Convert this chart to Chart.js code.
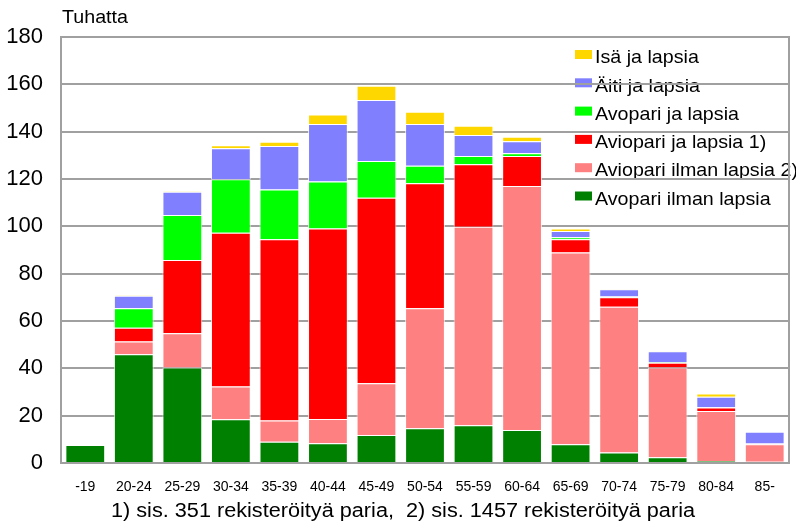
<!DOCTYPE html>
<html>
<head>
<meta charset="utf-8">
<script src="https://cdn.jsdelivr.net/npm/chart.js@4.4.1/dist/chart.umd.min.js"></script>
<style>
	html, body { margin: 0; padding: 0; background: #fff; }
	#chart { display: block; }
</style>
</head>
<body>
<canvas id="chart" width="796" height="522"></canvas>
<script>
	'use strict';

	var categories = ['-19', '20-24', '25-29', '30-34', '35-39', '40-44', '45-49', '50-54', '55-59', '60-64', '65-69', '70-74', '75-79', '80-84', '85-'];

	// stacked bottom to top, values in thousands
	var avopariIlmanLapsia = [7.6, 46, 40.3, 18.5, 9, 8.3, 11.8, 14.7, 16, 13.9, 7.9, 4.4, 2.4, 0.8, 0.5];
	var aviopariIlmanLapsia = [0, 5.3, 14.5, 13.8, 9, 10.3, 21.9, 50.7, 83.8, 103.1, 81, 61.6, 38, 21.2, 7.4];
	var aviopariJaLapsia = [0, 5.9, 31, 65, 76.5, 80.5, 78.4, 52.8, 26.4, 12.7, 5.6, 4, 2, 1.4, 0.2];
	var avopariJaLapsia = [0, 8.2, 19, 22.6, 21.1, 19.8, 15.5, 7.4, 3.5, 1.2, 0.9, 0.3, 0.2, 0.2, 0.1];
	var aitiJaLapsia = [0, 5.3, 9.8, 13.1, 18.3, 24.3, 25.8, 17.6, 8.9, 5, 2.6, 3.1, 4.6, 4.4, 5];
	var isaJaLapsia = [0, 0.2, 0.2, 1.3, 1.8, 4.1, 6, 5.2, 3.9, 1.9, 1.1, 0.2, 0.2, 1.4, 0.1];

	var yTicks = [0, 20, 40, 60, 80, 100, 120, 140, 160, 180];

	var fontFamily = '"Liberation Sans", Arial, sans-serif';

	var series = [
		{label: 'Avopari ilman lapsia', data: avopariIlmanLapsia, color: '#008000'},
		{label: 'Aviopari ilman lapsia 2)', data: aviopariIlmanLapsia, color: '#ff8080'},
		{label: 'Aviopari ja lapsia 1)', data: aviopariJaLapsia, color: '#ff0000'},
		{label: 'Avopari ja lapsia', data: avopariJaLapsia, color: '#00ff00'},
		{label: 'Äiti ja lapsia', data: aitiJaLapsia, color: '#8080ff'},
		{label: 'Isä ja lapsia', data: isaJaLapsia, color: '#ffd700'}
	];

	// draws text starting at x, stretched to the given width
	function fitText(ctx, text, x, y, width) {
		var w = ctx.measureText(text).width;
		ctx.save();
		ctx.translate(x, y);
		ctx.scale(width / w, 1);
		ctx.fillText(text, 0, 0);
		ctx.restore();
	}

	var extras = {
		id: 'extras',
		beforeDraw: function (chart) {
			var ctx = chart.ctx,
				items = chart.data.datasets.slice().reverse();

			ctx.save();
			ctx.fillStyle = '#fff';
			ctx.fillRect(0, 0, chart.width, chart.height);

			// legend sits under the grid lines, like in the original
			ctx.font = '19px ' + fontFamily;
			ctx.textAlign = 'left';
			ctx.textBaseline = 'middle';
			items.forEach(function (ds, i) {
				var y = 57 + i * 28.3;
				ctx.fillStyle = ds.backgroundColor;
				ctx.fillRect(575, y - 7, 17, 9);
				ctx.fillStyle = '#000';
				fitText(ctx, ds.label, 595, y + 1, ctx.measureText(ds.label).width * 1.035);
			});
			ctx.restore();
		},
		afterDraw: function (chart) {
			var ctx = chart.ctx,
				area = chart.chartArea;

			ctx.save();
			ctx.strokeStyle = '#a0a0a0';
			ctx.lineWidth = 2;
			ctx.strokeRect(area.left, area.top, area.right - area.left, area.bottom - area.top);

			ctx.fillStyle = '#000';
			ctx.textAlign = 'left';
			ctx.textBaseline = 'middle';
			ctx.font = '18px ' + fontFamily;
			fitText(ctx, 'Tuhatta', 62, 18, 66);

			ctx.font = '20px ' + fontFamily;
			fitText(ctx, '1) sis. 351 rekisteröityä paria,  2) sis. 1457 rekisteröityä paria', 111, 511, 584);
			ctx.restore();
		}
	};

	var chart = new Chart(document.getElementById('chart'), {
		type: 'bar',
		data: {
			labels: categories,
			datasets: series.map(function (s) {
				return {
					label: s.label,
					data: s.data,
					backgroundColor: s.color,
					borderColor: 'rgba(255,255,255,0.75)',
					borderWidth: 1,
					barPercentage: 0.82,
					categoryPercentage: 1
				};
			})
		},
		options: {
			responsive: false,
			animation: false,
			devicePixelRatio: 1,
			layout: {
				padding: {top: 37, right: 7, left: 0, bottom: 0}
			},
			plugins: {
				legend: {display: false},
				tooltip: {enabled: false}
			},
			scales: {
				x: {
					stacked: true,
					grid: {display: false, drawTicks: false},
					border: {display: false},
					ticks: {
						color: '#000',
						font: {family: fontFamily, size: 14},
						padding: 16,
						maxRotation: 0,
						autoSkip: false
					},
					afterFit: function (scale) {
						scale.height = 59;
					}
				},
				y: {
					stacked: true,
					min: 0,
					max: 180,
					afterBuildTicks: function (scale) {
						scale.ticks = yTicks.map(function (v) {
							return {value: v};
						});
					},
					grid: {color: '#a0a0a0', lineWidth: 2, drawTicks: false},
					border: {display: false},
					ticks: {
						color: '#000',
						font: {family: fontFamily, size: 22},
						padding: 18
					},
					afterFit: function (scale) {
						scale.width = 61;
					}
				}
			}
		},
		plugins: [extras]
	});
</script>
</body>
</html>
